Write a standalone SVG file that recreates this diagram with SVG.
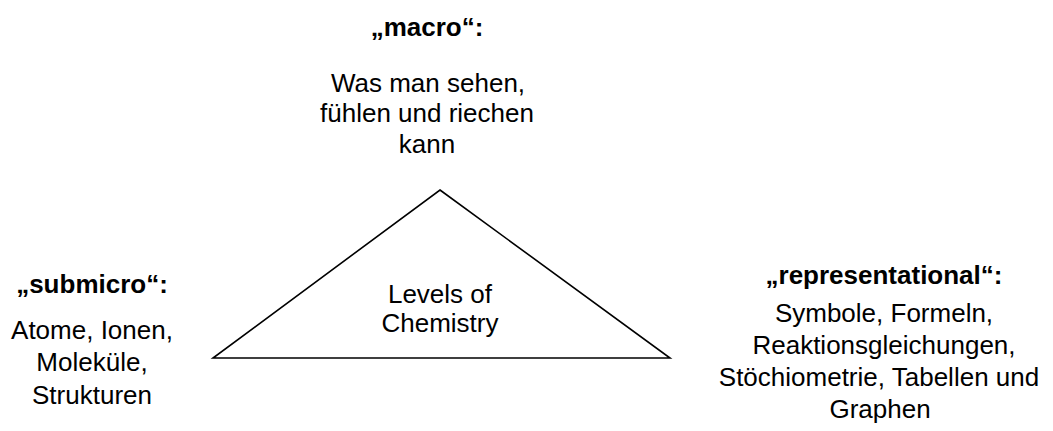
<svg xmlns="http://www.w3.org/2000/svg" width="1053" height="431" viewBox="0 0 1053 431">
  <style>
    text { font-family: "Liberation Sans", Arial, sans-serif; font-size: 26px; fill: #000; text-anchor: middle; }
    .title { font-weight: bold; }
    .tri { fill: none; stroke: #000; stroke-width: 1.6; }
  </style>
  <rect width="1053" height="431" fill="#fff"/>
  <g id="connectors">
    <polygon class="tri" points="440,190 670,358 213,358"/>
  </g>
  <g id="center">
    <text x="440" y="303">Levels of</text>
    <text x="440" y="332">Chemistry</text>
  </g>
  <g id="macro">
    <text class="title" x="427" y="36">„macro“:</text>
    <text x="428" y="92">Was man sehen,</text>
    <text x="427" y="122">fühlen und riechen</text>
    <text x="427" y="153">kann</text>
  </g>
  <g id="submicro">
    <text class="title" x="92" y="293">„submicro“:</text>
    <text x="92" y="339">Atome, Ionen,</text>
    <text x="92" y="371">Moleküle,</text>
    <text x="92" y="404">Strukturen</text>
  </g>
  <g id="representational">
    <text class="title" x="884" y="284">„representational“:</text>
    <text x="884" y="322">Symbole, Formeln,</text>
    <text x="884" y="354">Reaktionsgleichungen,</text>
    <text x="879" y="386">Stöchiometrie, Tabellen und</text>
    <text x="880" y="418">Graphen</text>
  </g>
</svg>
